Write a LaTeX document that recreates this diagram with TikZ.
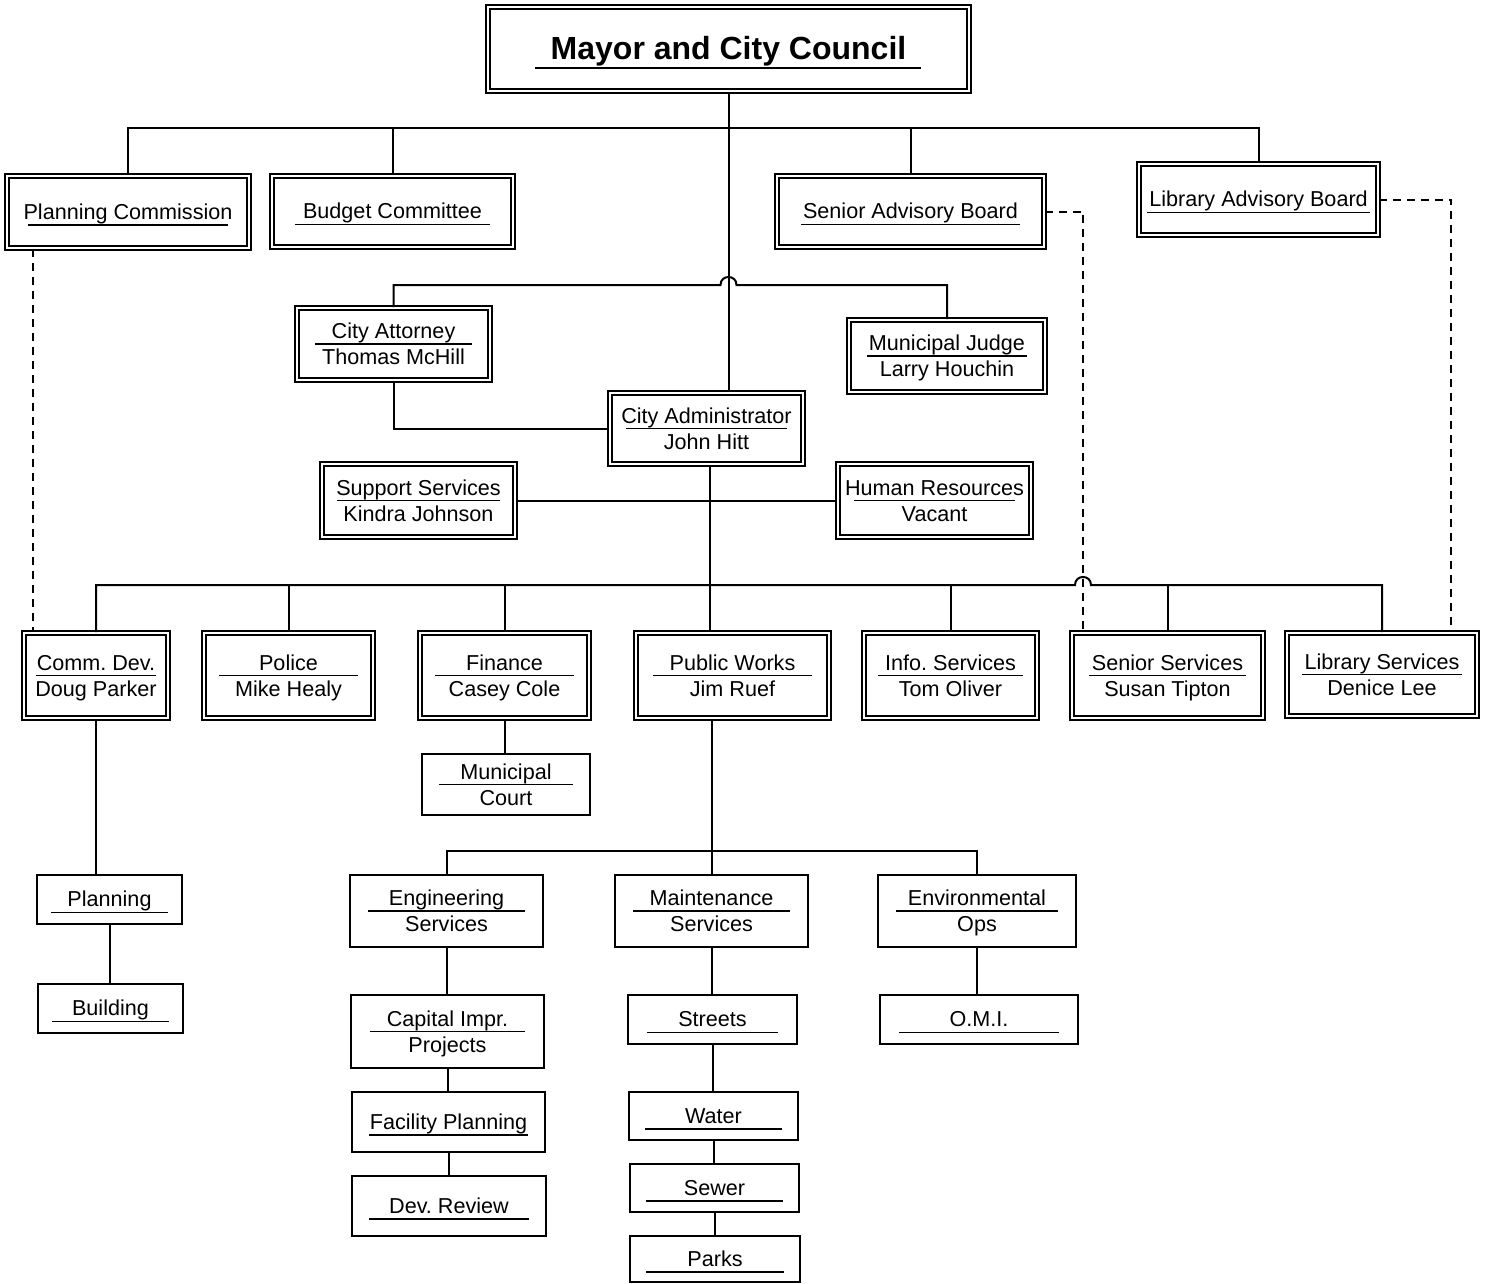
\documentclass[tikz,border=0pt]{standalone}
\usepackage{fontspec}
\setmainfont{Liberation Sans}
\usetikzlibrary{fit,calc}
\frenchspacing
\tikzset{
  dbox/.style={draw, double, line width=0.8pt, double distance=1.2pt, inner sep=0pt},
  sbox/.style={draw, line width=1pt, inner sep=0pt},
  txt/.style={font=\fontsize{10.8}{13}\selectfont, inner sep=0pt, anchor=base},
  uline/.style={line width=0.85pt},
  conn/.style={line width=1pt},
  dsh/.style={line width=1pt, dash pattern=on 4pt off 3pt}
}
\newcommand\mkbox[6]{\node[#1, fit={(#3,#4) (#5,#6)}] (#2) {};}
\newcommand\OneT[3]{%
  \node[txt] (#1-t) at ($(#1.center)+(0,7)$) {#2};
  \draw[uline] ($(#1.west)+(#3,13)$) -- ($(#1.east)+(-#3,13)$);}
\newcommand\TwoT[4]{%
  \node[txt] (#1-a) at ($(#1.center)+(0,-5.5)$) {#2};
  \node[txt] (#1-b) at ($(#1.center)+(0,20.5)$) {#3};
  \draw[uline] ($(#1.west)+(#4,0)$) -- ($(#1.east)+(-#4,0)$);}
\begin{document}
\begin{tikzpicture}[x=0.5pt,y=-0.5pt]
\useasboundingbox[fill=white] (0,0) rectangle (1488,1284);

% ---------- boxes ----------
\mkbox{dbox}{mayor}{488}{7}{969}{91}
\node[font=\fontsize{16}{19}\selectfont\bfseries, inner sep=0pt, anchor=base] (mayor-t) at ($(mayor.center)+(0,10.5)$) {Mayor and City Council};
\draw[uline] ($(mayor.west)+(48,19)$) -- ($(mayor.east)+(-49,19)$);

\mkbox{dbox}{pc}{7}{176}{249}{248}    \OneT{pc}{Planning Commission}{22}
\mkbox{dbox}{bc}{272}{176}{513}{247}  \OneT{bc}{Budget Committee}{24}
\mkbox{dbox}{sab}{777}{176}{1044}{247} \OneT{sab}{Senior Advisory Board}{25}
\mkbox{dbox}{lab}{1139}{164}{1378}{235} \OneT{lab}{Library Advisory Board}{9}

\mkbox{dbox}{att}{297}{308}{490}{380}  \TwoT{att}{City Attorney}{Thomas McHill}{19}
\mkbox{dbox}{mj}{849}{320}{1045}{392}  \TwoT{mj}{Municipal Judge}{Larry Houchin}{19}
\mkbox{dbox}{ca}{610}{393}{803}{464}   \TwoT{ca}{City Administrator}{John Hitt}{17}
\mkbox{dbox}{sup}{322}{464}{515}{537}  \TwoT{sup}{Support Services}{Kindra Johnson}{16}
\mkbox{dbox}{hr}{838}{464}{1031}{537}  \TwoT{hr}{Human Resources}{Vacant}{17}

\mkbox{dbox}{cd}{24}{633}{168}{718}    \TwoT{cd}{Comm. Dev.}{Doug Parker}{13}
\mkbox{dbox}{pol}{204}{633}{373}{718}  \TwoT{pol}{Police}{Mike Healy}{16}
\mkbox{dbox}{fin}{420}{633}{589}{718}  \TwoT{fin}{Finance}{Casey Cole}{16}
\mkbox{dbox}{pw}{636}{633}{829}{718}   \TwoT{pw}{Public Works}{Jim Ruef}{18}
\mkbox{dbox}{info}{864}{633}{1037}{718} \TwoT{info}{Info. Services}{Tom Oliver}{15}
\mkbox{dbox}{ssv}{1072}{633}{1263}{718} \TwoT{ssv}{Senior Services}{Susan Tipton}{18}
\mkbox{dbox}{lsv}{1287}{633}{1477}{716} \TwoT{lsv}{Library Services}{Denice Lee}{16}

\mkbox{sbox}{mc}{422}{754}{590}{815}   \TwoT{mc}{Municipal}{Court}{18}
\mkbox{sbox}{plan}{37}{875}{182}{924}  \OneT{plan}{Planning}{15}
\mkbox{sbox}{bld}{38}{984}{183}{1033}  \OneT{bld}{Building}{15}

\mkbox{sbox}{eng}{350}{875}{543}{947}  \TwoT{eng}{Engineering}{Services}{19}
\mkbox{sbox}{mnt}{615}{875}{808}{947}  \TwoT{mnt}{Maintenance}{Services}{19}
\mkbox{sbox}{env}{878}{875}{1076}{947} \TwoT{env}{Environmental}{Ops}{19}

\mkbox{sbox}{cap}{351}{995}{544}{1068} \TwoT{cap}{Capital Impr.}{Projects}{20}
\mkbox{sbox}{fac}{352}{1092}{545}{1152} \OneT{fac}{Facility Planning}{18}
\mkbox{sbox}{dev}{352}{1176}{546}{1236} \OneT{dev}{Dev. Review}{18}

\mkbox{sbox}{str}{628}{995}{797}{1044} \OneT{str}{Streets}{20}
\mkbox{sbox}{wat}{629}{1092}{798}{1140} \OneT{wat}{Water}{17}
\mkbox{sbox}{sew}{630}{1164}{799}{1212} \OneT{sew}{Sewer}{17}
\mkbox{sbox}{prk}{630}{1236}{800}{1282} \OneT{prk}{Parks}{17}

\mkbox{sbox}{omi}{880}{995}{1078}{1044} \OneT{omi}{O.M.I.}{20}

% ---------- connectors ----------
\coordinate (busA) at (0,128);
\draw[conn] (mayor.south) -- (mayor.south |- ca.north);
\draw[conn] (pc.north) -- (pc.north |- busA) -- (lab.north |- busA) -- (lab.north);
\draw[conn] (bc.north) -- (bc.north |- busA);
\draw[conn] (sab.north) -- (sab.north |- busA);

\coordinate (h1a) at (720.5,285);
\coordinate (h1b) at (736.5,285);
\draw[conn] (att.north) |- (h1a) .. controls ($(h1a)+(0,-10.7)$) and ($(h1b)+(0,-10.7)$) .. (h1b) -| (mj.north);

\draw[conn] (att.south) |- (ca.west);
\draw[conn] (sup.east) -- (hr.west);
\coordinate (cav) at ([xshift=1.5pt]ca.south);
\draw[conn] (cav) -- (cav |- pw.north);

\coordinate (busB) at (0,585);
\coordinate (h2a) at (1075,585);
\coordinate (h2b) at (1091,585);
\draw[conn] (cd.north) |- (h2a) .. controls ($(h2a)+(0,-10.7)$) and ($(h2b)+(0,-10.7)$) .. (h2b) -| (lsv.north);
\foreach \n in {pol,fin,info,ssv} \draw[conn] (\n.north) -- (\n.north |- busB);

% dashed advisory links
\coordinate (d1) at ($(pc.south west)+(27,0)$);
\draw[dsh] (d1) -- (d1 |- cd.north);
\coordinate (d2) at (1083,0);
\draw[dsh] (sab.east) -| (d2 |- ssv.north);
\coordinate (d3) at (1451,626);
\draw[dsh] (lab.east) -| (d3);

% lower levels
\draw[conn] (fin.south) -- (fin.south |- mc.north);
\draw[conn] (cd.south) -- (cd.south |- plan.north);
\draw[conn] (plan.south) -- (plan.south |- bld.north);

\coordinate (busC) at (0,851);
\draw[conn] (mnt.north |- pw.south) -- (mnt.north);
\draw[conn] (eng.north) -- (eng.north |- busC) -- (env.north |- busC) -- (env.north);

\draw[conn] (eng.south) -- (eng.south |- cap.north);
\draw[conn] (cap.south) -- (cap.south |- fac.north);
\draw[conn] (fac.south) -- (fac.south |- dev.north);

\draw[conn] (mnt.south) -- (mnt.south |- str.north);
\draw[conn] (str.south) -- (str.south |- wat.north);
\draw[conn] (wat.south) -- (wat.south |- sew.north);
\draw[conn] (sew.south) -- (sew.south |- prk.north);

\draw[conn] (env.south) -- (env.south |- omi.north);
\end{tikzpicture}
\end{document}
